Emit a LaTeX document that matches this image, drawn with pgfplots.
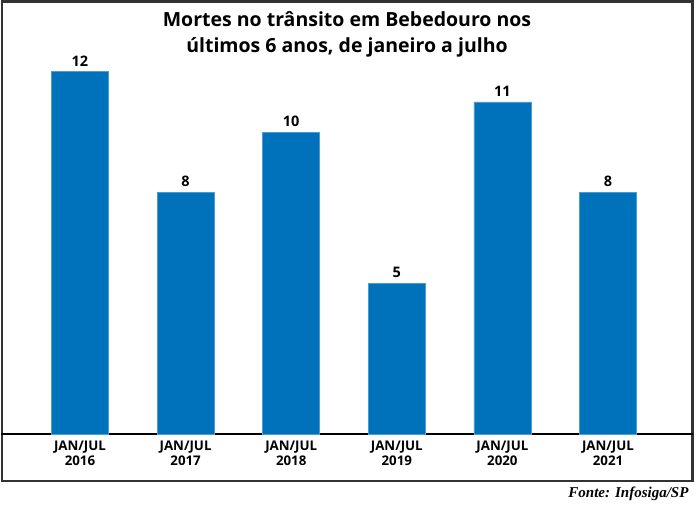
\documentclass[border=0pt]{standalone}
\usepackage{pgfplots}
\pgfplotsset{compat=1.18}
\usepackage{fontspec}
\setmainfont{Open Sans}
\newfontfamily\srcfont{Liberation Serif}
\definecolor{barblue}{RGB}{0,114,187}
\definecolor{frame}{RGB}{50,50,50}
\begin{document}
\begin{tikzpicture}[x=1pt,y=1pt]
\path[use as bounding box] (0,0) rectangle (696,504);
\draw[line width=2.2pt, frame] (2,502.5) rectangle (692.5,23);
\node[anchor=base, font=\bfseries\fontsize{19.5}{26}\selectfont] at (347,477) {Mortes no trânsito em Bebedouro nos};
\node[anchor=base, font=\bfseries\fontsize{19.5}{26}\selectfont] at (347,451) {últimos 6 anos, de janeiro a julho};
\node[anchor=base east, font=\srcfont\bfseries\itshape\fontsize{15}{15}\selectfont] at (692,7) {Fonte: Infosiga/SP};
\begin{axis}[
  at={(1pt,70pt)}, anchor=south west,
  scale only axis, width=692pt, height=433pt,
  xmin=-0.748, xmax=5.805, ymin=0, ymax=14.34,
  axis x line=bottom, axis y line=none,
  x axis line style={-, line width=1.3pt, black},
  ytick=\empty,
  xtick={0,1,2,3,4,5}, major tick length=0pt,
  xticklabels={{JAN/JUL\\2016},{JAN/JUL\\2017},{JAN/JUL\\2018},{JAN/JUL\\2019},{JAN/JUL\\2020},{JAN/JUL\\2021}},
  xticklabel style={align=center, font=\bfseries\fontsize{13.3}{14.5}\selectfont, yshift=-3.5pt},
  /pgf/number format/assume math mode=true,
  ybar, bar width=57pt,
  nodes near coords,
  nodes near coords style={font=\bfseries\fontsize{14.5}{14.5}\selectfont, yshift=2pt},
]
\addplot[fill=barblue, draw=barblue!70!white, line width=0.6pt] coordinates {(0,12) (1,8) (2,10) (3,5) (4,11) (5,8)};
\end{axis}
\end{tikzpicture}
\end{document}
